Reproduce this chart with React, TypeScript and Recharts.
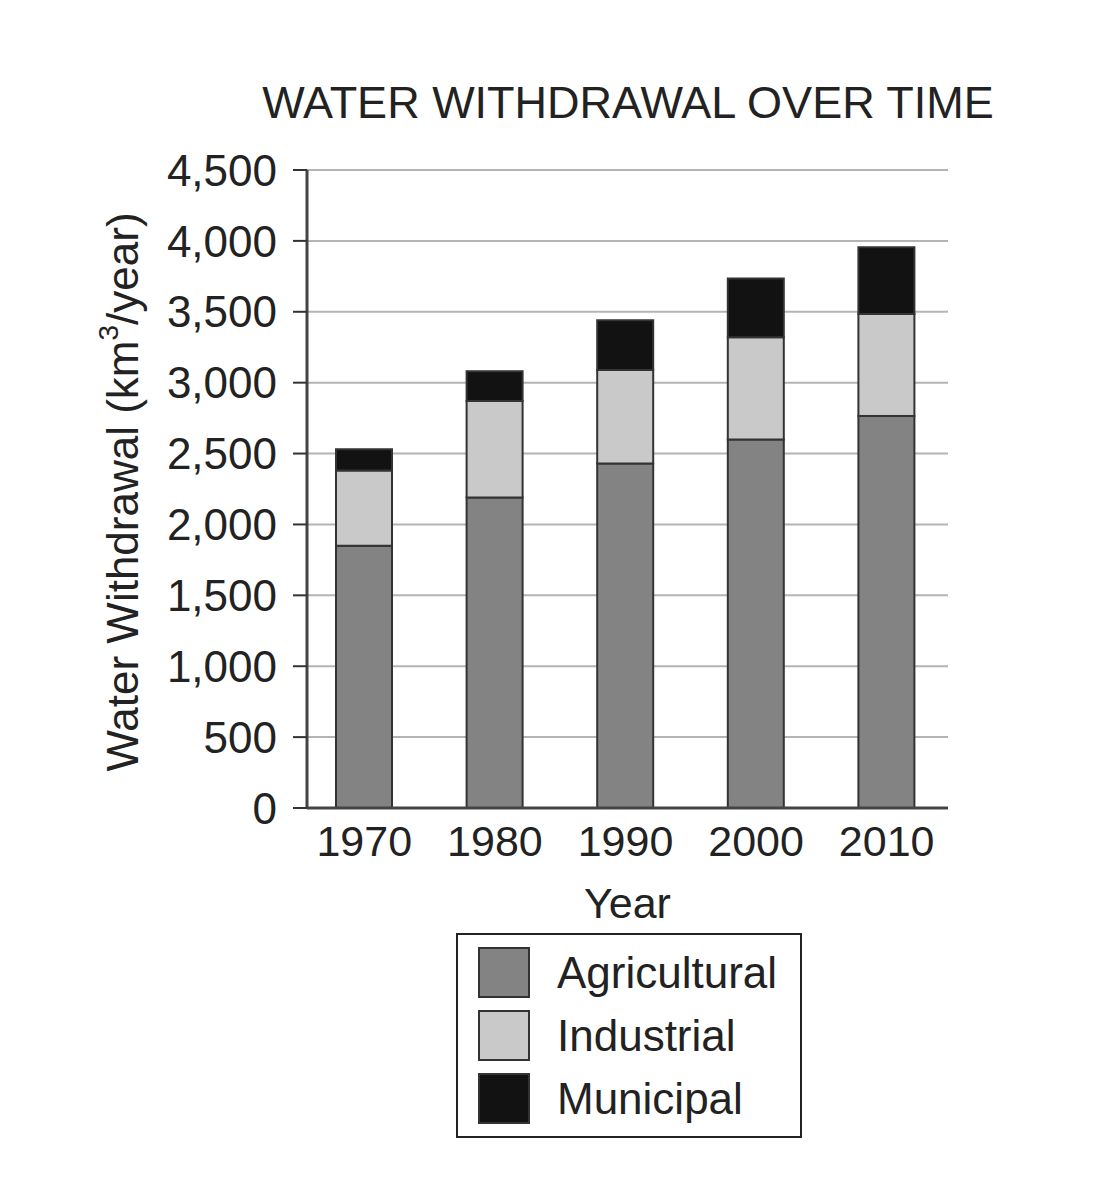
import React from "react";
import { Bar, BarChart, CartesianGrid, Legend, XAxis, YAxis } from "recharts";

// values (km3/year)
const years = ["1970", "1980", "1990", "2000", "2010"];
const agricultural = [1850, 2190, 2430, 2600, 2765];
const industrial = [530, 680, 660, 720, 720];
const municipal = [150, 210, 350, 415, 470];
const yTicks = [0, 500, 1000, 1500, 2000, 2500, 3000, 3500, 4000, 4500];

const data = years.map((year, i) => ({
    year,
    agricultural: agricultural[i],
    industrial: industrial[i],
    municipal: municipal[i]
}));

const FONT = '"Liberation Sans", Arial, Helvetica, sans-serif';
const INK = "#222";

function LegendBox({ payload }: any) {
    return (
        <div
            style={{
                width: 346,
                height: 205,
                boxSizing: "border-box",
                border: `2px solid ${INK}`,
                padding: "6px 0 0 20px",
                fontFamily: FONT,
                fontSize: 44,
                color: INK,
                background: "#fff"
            }}
        >
            {(payload || []).map((entry: any, i: number) => (
                <div key={i} style={{ display: "flex", alignItems: "center", height: 63 }}>
                    <span
                        style={{
                            display: "inline-block",
                            width: 52,
                            height: 51,
                            boxSizing: "border-box",
                            background: entry.color,
                            border: "2px solid #333",
                            marginRight: 27
                        }}
                    />
                    <span>{entry.value}</span>
                </div>
            ))}
        </div>
    );
}

function YLabel({ viewBox }: any) {
    const cx = viewBox.x + 122;
    const cy = viewBox.y + viewBox.height / 2 + 3;
    return (
        <text
            x={cx}
            y={cy}
            transform={`rotate(-90, ${cx}, ${cy})`}
            textAnchor="middle"
            dominantBaseline="central"
            fontFamily={FONT}
            fontSize={44}
            fill={INK}
        >
            Water Withdrawal (km
            <tspan fontSize={28} dy={-14}>3</tspan>
            <tspan dy={14}>/year)</tspan>
        </text>
    );
}

function XLabel({ viewBox }: any) {
    return (
        <text
            x={viewBox.x + viewBox.width / 2}
            y={918}
            textAnchor="middle"
            fontFamily={FONT}
            fontSize={43}
            fill={INK}
        >
            Year
        </text>
    );
}

export default function App() {
    return (
        <div style={{ position: "absolute", left: 0, top: 0, width: 1106, height: 1200, background: "#fff" }}>
            <div
                style={{
                    position: "absolute",
                    left: 128,
                    top: 80,
                    width: 1000,
                    textAlign: "center",
                    fontFamily: FONT,
                    fontSize: 45,
                    lineHeight: "45px",
                    color: INK,
                    zIndex: 2
                }}
            >
                WATER WITHDRAWAL OVER TIME
            </div>
            <BarChart
                width={1106}
                height={1200}
                data={data}
                margin={{ top: 170, right: 158, bottom: 332, left: 0 }}
            >
                <CartesianGrid horizontal vertical={false} stroke="#b4b4b4" strokeWidth={2} />
                <XAxis
                    dataKey="year"
                    height={60}
                    padding={{ left: -8, right: -4 }}
                    tickLine={false}
                    tickSize={0}
                    tickMargin={17}
                    axisLine={{ stroke: "#444", strokeWidth: 3 }}
                    tick={{ fill: INK, fontSize: 43, fontFamily: FONT }}
                    interval={0}
                    label={<XLabel />}
                />
                <YAxis
                    width={307}
                    domain={[0, 4500]}
                    ticks={yTicks}
                    interval={0}
                    tickSize={14}
                    tickMargin={16}
                    tickLine={{ stroke: "#333", strokeWidth: 2 }}
                    axisLine={{ stroke: "#444", strokeWidth: 3 }}
                    tick={{ fill: INK, fontSize: 44, fontFamily: FONT }}
                    tickFormatter={(v) => v.toLocaleString("en-US")}
                    label={<YLabel />}
                />
                <Legend
                    layout="vertical"
                    align="center"
                    verticalAlign="middle"
                    content={<LegendBox />}
                    wrapperStyle={{ position: "absolute", left: 456, top: 933, width: 346, height: 205 }}
                />
                <Bar dataKey="agricultural" name="Agricultural" stackId="a" barSize={56} fill="#838383" stroke="#333" strokeWidth={2} isAnimationActive={false} />
                <Bar dataKey="industrial" name="Industrial" stackId="a" barSize={56} fill="#c9c9c9" stroke="#333" strokeWidth={2} isAnimationActive={false} />
                <Bar dataKey="municipal" name="Municipal" stackId="a" barSize={56} fill="#121212" stroke="#333" strokeWidth={2} isAnimationActive={false} />
            </BarChart>
        </div>
    );
}
